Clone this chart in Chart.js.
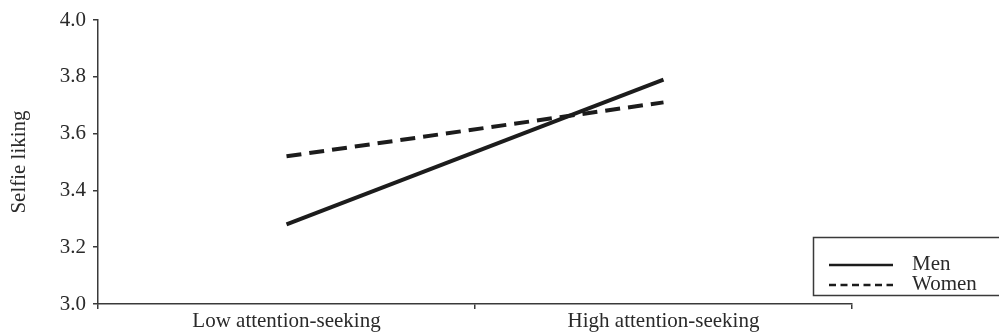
<!DOCTYPE html>
<html>
<head>
<meta charset="utf-8">
<script src="https://cdn.jsdelivr.net/npm/chart.js@4.4.0/dist/chart.umd.min.js"></script>
<style>
  html, body { margin:0; padding:0; background:#fff; }
  #wrap { width:999px; height:333px; position:relative; }
</style>
</head>
<body>
<div id="wrap"><canvas id="chart" width="999" height="333"></canvas></div>
<script>
// ========== DATA ==========
const categories = ["Low attention-seeking", "High attention-seeking"];
const menValues = [3.28, 3.79];
const womenValues = [3.52, 3.71];
const yTicks = [3.0, 3.2, 3.4, 3.6, 3.8, 4.0];
const seriesNames = ["Men", "Women"];

const ink = "#1c1c1c";
const axisColor = "#3a3a3a";
const serif = "'Liberation Serif', 'DejaVu Serif', serif";

// ========== LEGEND BOX (drawn on canvas) ==========
const boxLegend = {
  id: "boxLegend",
  afterDraw(chart){
    const ctx = chart.ctx;
    ctx.save();
    ctx.fillStyle = "#fff";
    ctx.fillRect(813, 237, 190, 59);
    ctx.strokeStyle = axisColor;
    ctx.lineWidth = 1.5;
    ctx.beginPath();
    ctx.moveTo(1002, 237.5);
    ctx.lineTo(813.5, 237.5);
    ctx.lineTo(813.5, 295.5);
    ctx.lineTo(1002, 295.5);
    ctx.stroke();

    ctx.strokeStyle = ink;
    ctx.lineWidth = 2.5;
    ctx.beginPath();
    ctx.setLineDash([]);
    ctx.moveTo(829, 265); ctx.lineTo(893, 265);
    ctx.stroke();
    ctx.beginPath();
    ctx.setLineDash([7, 4.5]);
    ctx.moveTo(829, 285); ctx.lineTo(893, 285);
    ctx.stroke();
    ctx.setLineDash([]);

    ctx.fillStyle = "#2a2a2a";
    ctx.font = "21px " + serif;
    ctx.textBaseline = "middle";
    ctx.fillText(seriesNames[0], 912, 264);
    ctx.fillText(seriesNames[1], 912, 284);
    ctx.restore();
  }
};

// ========== CHART ==========
new Chart(document.getElementById("chart"), {
  type: "line",
  data: {
    labels: categories,
    datasets: [
      {
        label: seriesNames[0],
        data: menValues,
        borderColor: ink,
        borderWidth: 4,
        pointRadius: 0,
        fill: false
      },
      {
        label: seriesNames[1],
        data: womenValues,
        borderColor: ink,
        borderWidth: 4,
        borderDash: [15, 8],
        pointRadius: 0,
        fill: false
      }
    ]
  },
  options: {
    responsive: false,
    animation: false,
    layout: { padding: { top: 20, right: 147, left: 0, bottom: 0 } },
    plugins: { legend: { display: false }, tooltip: { enabled: false } },
    scales: {
      x: {
        type: "category",
        offset: true,
        afterFit(s){ s.height = 29; },
        grid: {
          offset: true,
          drawOnChartArea: false,
          drawTicks: true,
          tickLength: 5,
          color: axisColor,
          lineWidth: 1.5
        },
        border: { display: true, color: axisColor, width: 1.5 },
        ticks: {
          color: "#2a2a2a",
          font: { family: serif, size: 21 },
          padding: 0,
          maxRotation: 0
        }
      },
      y: {
        min: 3.0,
        max: 4.0,
        afterFit(s){ s.width = 98; },
        afterBuildTicks(s){ s.ticks = yTicks.map(v => ({ value: v })); },
        grid: {
          drawOnChartArea: false,
          drawTicks: true,
          tickLength: 5,
          color: axisColor,
          lineWidth: 1.5
        },
        border: { display: true, color: axisColor, width: 1.5 },
        ticks: {
          color: "#2a2a2a",
          font: { family: serif, size: 21 },
          padding: 7,
          callback: v => Number(v).toFixed(1)
        },
        title: {
          display: true,
          text: "Selfie liking",
          color: "#2a2a2a",
          font: { family: serif, size: 21 },
          padding: { top: 7, bottom: 0 }
        }
      }
    }
  },
  plugins: [boxLegend]
});
</script>
</body>
</html>
